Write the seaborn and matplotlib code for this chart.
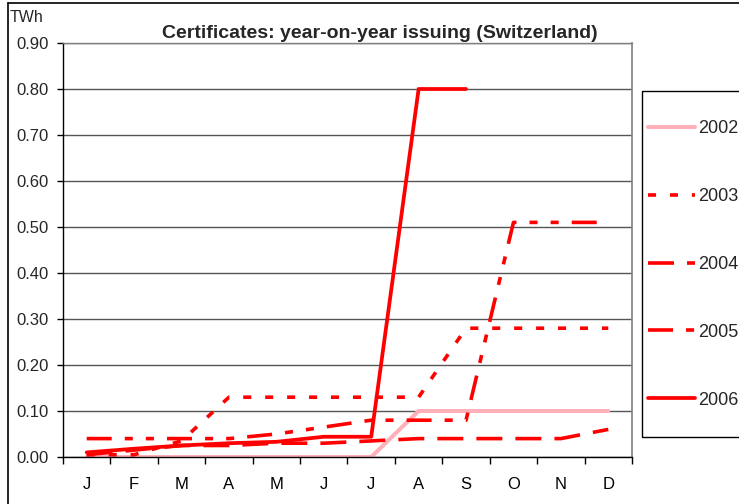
import matplotlib
matplotlib.use("Agg")
import matplotlib.pyplot as plt
from matplotlib.lines import Line2D
from matplotlib.patches import Rectangle
from matplotlib.ticker import FixedLocator, FormatStrFormatter
import numpy as np
import pandas as pd
import seaborn as sns

# Monthly certificate issuing, cumulative per year (TWh)
month_labels = ["J", "F", "M", "A", "M", "J", "J", "A", "S", "O", "N", "D"]
years = ["2002", "2003", "2004", "2005", "2006"]

y2002 = [0.00, 0.00, 0.00, 0.00, 0.00, 0.00, 0.00, 0.10, 0.10, 0.10, 0.10, 0.10]
y2003 = [0.005, 0.005, 0.035, 0.13, 0.13, 0.13, 0.13, 0.13, 0.28, 0.28, 0.28, 0.28]
y2004 = [0.005, 0.015, 0.025, 0.025, 0.03, 0.03, 0.035, 0.04, 0.04, 0.04, 0.04, 0.06]
y2005 = [0.04, 0.04, 0.04, 0.04, 0.05, 0.065, 0.08, 0.08, 0.08, 0.51, 0.51, 0.51]
y2006 = [0.01, 0.018, 0.025, 0.03, 0.033, 0.044, 0.044, 0.80, 0.80]

series = {"2002": y2002, "2003": y2003, "2004": y2004, "2005": y2005, "2006": y2006}
rows = []
for yr in years:
    for m, v in enumerate(series[yr]):
        rows.append({"month": m, "TWh": v, "year": yr})
df = pd.DataFrame(rows)

sns.set_style("white")
plt.rcParams["font.family"] = ["Liberation Sans", "DejaVu Sans"]
plt.rcParams["lines.scale_dashes"] = False

W, H = 739, 504
fig = plt.figure(figsize=(W / 100, H / 100), dpi=100)
ax = fig.add_axes([63 / W, 1 - 457 / H, (632 - 63) / W, (457 - 43) / H])

palette = {"2002": "#FFB0B8", "2003": "#FF0000", "2004": "#FF0000",
           "2005": "#FF0000", "2006": "#FF0000"}
dashes = {
    "2002": "",
    "2003": (5.8, 10.0),
    "2004": (18.7, 9.4),
    "2005": (18.0, 9.4, 5.8, 9.4, 5.8, 9.4),
    "2006": "",
}
sizes = {"2002": 2.9, "2003": 2.6, "2004": 2.6, "2005": 2.6, "2006": 2.7}

sns.lineplot(data=df, x="month", y="TWh", hue="year", style="year",
             size="year", sizes=sizes, palette=palette, dashes=dashes,
             hue_order=years, style_order=years, size_order=years,
             ax=ax, legend=True, sort=False)
for ln in ax.get_lines():
    ln.set_dash_capstyle("butt")

handles, labels = ax.get_legend_handles_labels()
ax.get_legend().remove()

ax.set_xlim(-0.5, 11.5)
ax.set_ylim(0, 0.9)
ax.set_xlabel("")
ax.set_ylabel("")

ax.xaxis.set_major_locator(FixedLocator(np.arange(12)))
ax.set_xticklabels(month_labels)
ax.xaxis.set_minor_locator(FixedLocator(np.arange(-0.5, 12, 1.0)))
ax.tick_params(axis="x", which="major", length=0, pad=14.5, labelsize=12,
               colors="black")
ax.tick_params(axis="x", which="minor", length=5, width=1, direction="out",
               color="black", bottom=True)

ax.set_yticks(np.arange(0, 0.91, 0.1))
ax.yaxis.set_major_formatter(FormatStrFormatter("%.2f"))
ax.tick_params(axis="y", which="major", length=4.5, width=1, direction="out",
               pad=5.5, labelsize=12, color="black", left=True)

ax.yaxis.grid(True, color="#555555", linewidth=1)
ax.xaxis.grid(False)
ax.set_axisbelow(True)
for side in ["left", "bottom"]:
    ax.spines[side].set_color("black")
    ax.spines[side].set_linewidth(1)
ax.spines["right"].set_color("#808080")
ax.spines["right"].set_linewidth(1.2)
ax.spines["top"].set_color("#808080")
ax.spines["top"].set_linewidth(1)

# Title and unit
fig.text(380 / W, 1 - 34 / H, "Certificates: year-on-year issuing (Switzerland)",
         ha="center", va="center", fontsize=14, fontweight="bold")
fig.text(10 / W, 1 - 18 / H, "TWh", ha="left", va="center", fontsize=11.5)

# Legend box and entries
fig.patches.append(Rectangle((641.5 / W, 1 - 437 / H), 120 / W, (437 - 91) / H,
                             transform=fig.transFigure, fill=False,
                             edgecolor="black", linewidth=1))
leg = fig.legend(handles, labels, loc="upper left",
                 bbox_to_anchor=(648 / W, 1 - 120 / H), frameon=False,
                 fontsize=13, handlelength=2.6, handletextpad=0.18,
                 labelspacing=2.82, borderpad=0, borderaxespad=0)

# Outer frame of the chart
fig.add_artist(Line2D([8 / W, 8 / W], [0, 1 - 3 / H], transform=fig.transFigure,
                      color="black", linewidth=1.2))
fig.add_artist(Line2D([8 / W, 1], [1 - 3 / H, 1 - 3 / H], transform=fig.transFigure,
                      color="black", linewidth=1.2))

fig.savefig("out.png", dpi=100)
